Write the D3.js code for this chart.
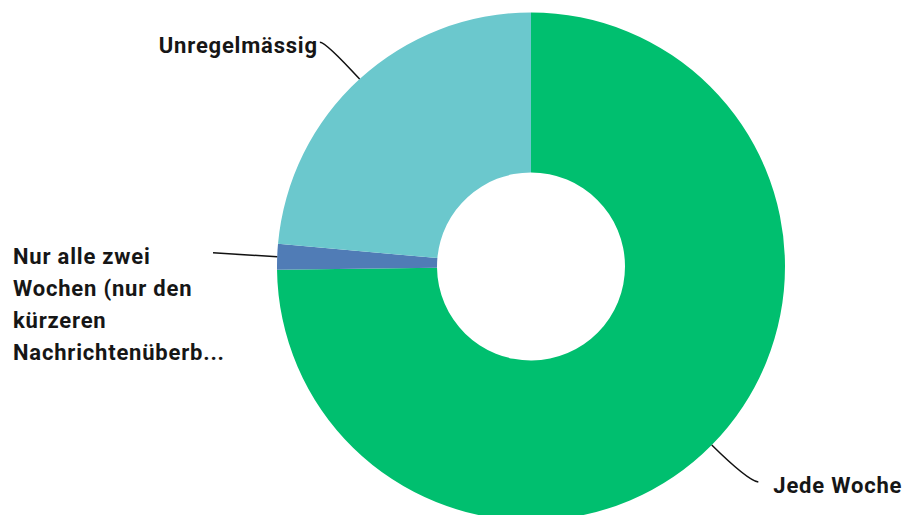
<!DOCTYPE html>
<html>
<head>
<meta charset="utf-8">
<script src="https://cdn.jsdelivr.net/npm/d3@7"></script>
<style>
  html, body { margin: 0; padding: 0; background: #fff; }
  text { font-family: Roboto, "Open Sans", sans-serif; font-weight: 700; fill: #161616; letter-spacing: 0.8px; }
</style>
</head>
<body>
<svg id="chart" width="904" height="515"></svg>
<script>
// answer categories, counts and slice colours
const categories = ['Jede Woche', 'Nur alle zwei Wochen (nur den kürzeren Nachrichtenüberblick)', 'Unregelmässig'];
const counts = [92, 2, 29];
const colors = ['#00bf6f', '#507cb6', '#6bc8cd'];
// label lines as they appear (long label is wrapped and cut)
const labelLines = [
  ['Jede Woche'],
  ['Nur alle zwei', 'Wochen (nur den', 'kürzeren', 'Nachrichtenüberb...'],
  ['Unregelmässig']
];

const width = 904,
  height = 515,
  cx = 531,
  cy = 266.5,
  outerR = 254,
  innerR = 94,
  fontSize = 22,
  lineHeight = 32;

const svg = d3.select('#chart');
const g = svg.append('g').attr('transform', `translate(${cx},${cy})`);

const data = categories.map((c, i) => ({ name: c, value: counts[i], color: colors[i], lines: labelLines[i] }));

const pie = d3.pie().value(d => d.value).sort(null);
const arc = d3.arc().innerRadius(innerR).outerRadius(outerR);
const arcs = pie(data);

g.selectAll('path.slice')
  .data(arcs)
  .enter()
  .append('path')
  .attr('class', 'slice')
  .attr('d', arc)
  .attr('fill', d => d.data.color);

// leader lines and labels
const pointAt = (a, r) => [Math.sin(a) * r, -Math.cos(a) * r];

arcs.forEach(d => {
  const mid = (d.startAngle + d.endAngle) / 2;
  const p0 = pointAt(mid, outerR);
  const elbow = pointAt(mid, outerR + 50);
  const right = p0[0] > 0;
  const end = [elbow[0] + (right ? 11 : -6), elbow[1] + (right ? 2 : 0)];
  const lines = d.data.lines;
  const multi = lines.length > 1;
  const lineEnd = multi ? [-cx + 213, elbow[1] - 2] : end;

  const path = d3.path();
  path.moveTo(p0[0], p0[1]);
  if (multi) {
    path.lineTo(lineEnd[0], lineEnd[1]);
  } else {
    path.quadraticCurveTo(elbow[0], elbow[1], end[0], end[1]);
  }
  g.append('path')
    .attr('d', path.toString())
    .attr('fill', 'none')
    .attr('stroke', '#111')
    .attr('stroke-width', 1.5);

  const t = g.append('text').attr('font-size', fontSize);
  if (multi) {
    t.attr('x', -cx + 13).attr('y', lineEnd[1] + 11);
    lines.forEach((l, i) => {
      t.append('tspan').attr('x', -cx + 13).attr('dy', i ? lineHeight : 0).text(l);
    });
  } else {
    t.attr('x', end[0] + (right ? 15 : -2))
      .attr('y', end[1] + 11)
      .attr('text-anchor', right ? 'start' : 'end')
      .text(lines[0]);
  }
});
</script>
</body>
</html>
